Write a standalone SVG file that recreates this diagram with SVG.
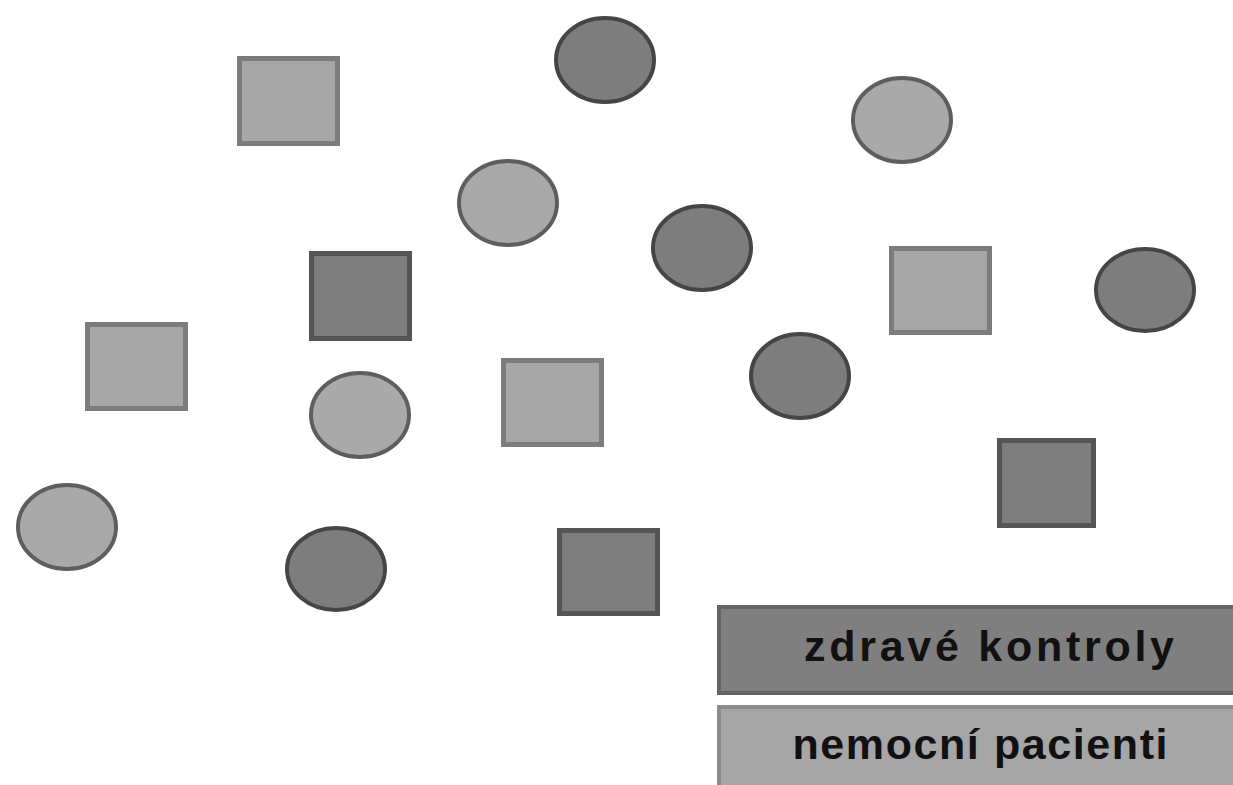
<svg xmlns="http://www.w3.org/2000/svg" width="1233" height="785" viewBox="0 0 1233 785">
<style>
.bg{fill:#ffffff}
.sqL{fill:#a7a7a7;stroke:#7c7c7c;stroke-width:5}
.sqD{fill:#7e7e7e;stroke:#555555;stroke-width:5}
.ciL{fill:#a9a9a9;stroke:#5e5e5e;stroke-width:4}
.ciD{fill:#7d7d7d;stroke:#454545;stroke-width:4}
.barD{fill:#7f7f7f;stroke:#646464;stroke-width:4}
.barL{fill:#a6a6a6;stroke:#8c8c8c;stroke-width:4}
.lbl{font-family:"Liberation Sans",Arial,sans-serif;font-weight:bold;font-size:43px;fill:#111111}
</style>
<rect class="bg" x="0" y="0" width="1233" height="785"/>
<g id="nodes">
<g id="sq1"><rect class="sqL" x="239.5" y="58.5" width="98" height="85"/></g>
<g id="sq2"><rect class="sqL" x="87.5" y="324.5" width="98" height="84"/></g>
<g id="sq3"><rect class="sqL" x="503.5" y="360.5" width="98" height="84"/></g>
<g id="sq4"><rect class="sqL" x="891.5" y="248.5" width="98" height="84"/></g>
<g id="sq5"><rect class="sqD" x="311.5" y="253.5" width="98" height="85"/></g>
<g id="sq6"><rect class="sqD" x="559.5" y="530.5" width="98" height="83"/></g>
<g id="sq7"><rect class="sqD" x="999.5" y="440.5" width="94" height="85"/></g>
<g id="c1"><ellipse class="ciD" cx="605" cy="60" rx="49" ry="42"/></g>
<g id="c2"><ellipse class="ciD" cx="702" cy="248" rx="49" ry="42"/></g>
<g id="c3"><ellipse class="ciD" cx="1145" cy="290" rx="49" ry="41"/></g>
<g id="c4"><ellipse class="ciD" cx="800" cy="376" rx="49" ry="42"/></g>
<g id="c5"><ellipse class="ciD" cx="336" cy="569" rx="49" ry="41"/></g>
<g id="c6"><ellipse class="ciL" cx="902" cy="120" rx="49" ry="42"/></g>
<g id="c7"><ellipse class="ciL" cx="508" cy="203" rx="49" ry="42"/></g>
<g id="c8"><ellipse class="ciL" cx="360" cy="415" rx="49" ry="42"/></g>
<g id="c9"><ellipse class="ciL" cx="67" cy="527" rx="49" ry="42"/></g>
</g>
<g id="legend">
<g id="leg-dark"><rect class="barD" x="719" y="607" width="520" height="86"/>
<text class="lbl" x="989" y="661" text-anchor="middle" textLength="370" lengthAdjust="spacing">zdravé kontroly</text></g>
<g id="leg-light"><rect class="barL" x="719" y="707" width="520" height="84"/>
<text class="lbl" x="980" y="759" text-anchor="middle" textLength="375" lengthAdjust="spacing">nemocní pacienti</text></g>
</g>
</svg>
